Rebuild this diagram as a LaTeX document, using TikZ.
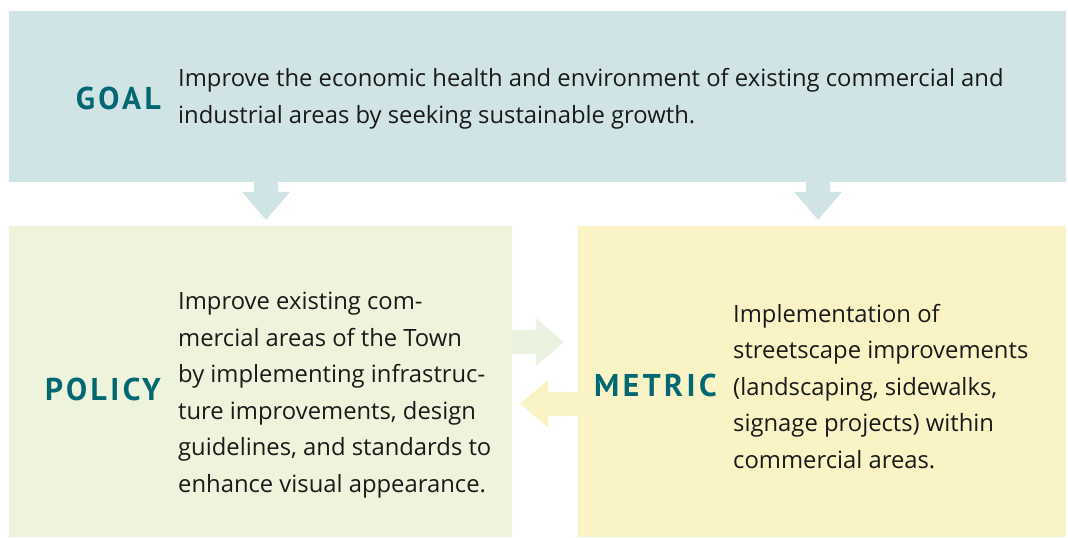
\documentclass[tikz,border=0pt]{standalone}
\usepackage{fontspec}
\setmainfont{Open Sans}
\newfontfamily\labelfont[LetterSpace=11]{PT Sans}
\usetikzlibrary{arrows.meta}
\definecolor{goalblue}{HTML}{D0E4E6}
\definecolor{policygreen}{HTML}{EEF3DB}
\definecolor{metricyellow}{HTML}{FAF3C6}
\definecolor{pushgreen}{HTML}{EBF2DF}
\definecolor{labelteal}{HTML}{006872}
\definecolor{bodyink}{HTML}{1A1A1A}
\tikzset{
    panel/.style={rectangle, inner sep=0, draw=none},
    body/.style={font=\fontsize{23.8}{36.5}\selectfont, text=bodyink, align=left, inner sep=0, anchor=base west},
    tag/.style={font=\labelfont\bfseries\fontsize{31.5}{31.5}\selectfont, text=labelteal, inner sep=0},
    blockarrow/.style={line width=24pt, -{Triangle[length=28pt, width=48pt, line width=0pt]}}
}

\begin{document}
\begin{tikzpicture}[x=1pt, y=-1pt]
        \useasboundingbox (0,0) rectangle (1068,538);
        % panels
        \node[panel, fill=goalblue, minimum width=1057pt, minimum height=171pt] at (537.5, 96.5)   (goal) {};
        \node[panel, fill=policygreen, minimum width=503pt, minimum height=311pt] at (260.5, 381.5)   (policy) {};
        \node[panel, fill=metricyellow, minimum width=488pt, minimum height=311pt] at (822, 381.5)   (metric) {};
        % labels
        \node[tag, anchor=base east] at (161, 109)   (goaltag) {GOAL};
        \node[tag, anchor=base east] at (161, 400)   (policytag) {POLICY};
        \node[tag, anchor=base west] at (594, 396)   (metrictag) {METRIC};
        % texts (base = last line)
        \node[body] at (178, 123)   (goaltext) {Improve the economic health and environment of existing commercial and\\industrial areas by seeking sustainable growth.};
        \node[body] at (178, 492)   (policytext) {Improve existing com-\\mercial areas of the Town\\by implementing infrastruc-\\ture improvements, design\\guidelines, and standards to\\enhance visual appearance.};
        \node[body] at (733, 468)   (metrictext) {Implementation of\\streetscape improvements\\(landscaping, sidewalks,\\signage projects) within\\commercial areas.};
        % arrows
        \coordinate (dropL) at (266, 0);
        \coordinate (dropR) at (818, 0);
        \coordinate (pushR) at (0, 342);
        \coordinate (pullL) at (0, 403.5);
        \draw [blockarrow, goalblue, shorten >=6pt] (goal.south -| dropL) -- (policy.north -| dropL);
        \draw [blockarrow, goalblue, shorten >=6pt] (goal.south -| dropR) -- (metric.north -| dropR);
        \draw [blockarrow, pushgreen, shorten >=14pt] (policy.east |- pushR) -- (metric.west |- pushR);
        \draw [blockarrow, metricyellow, shorten >=8pt] (metric.west |- pullL) -- (policy.east |- pullL);
    \end{tikzpicture}
\end{document}
